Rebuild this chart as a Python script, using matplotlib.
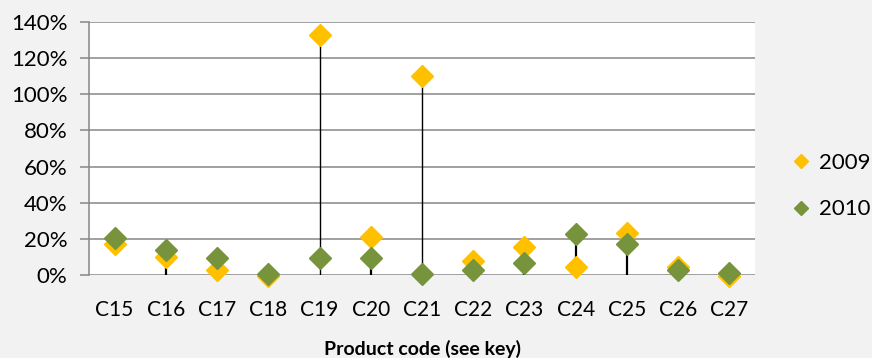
import matplotlib
matplotlib.use("Agg")
import matplotlib.pyplot as plt
import numpy as np
from matplotlib.lines import Line2D
from matplotlib.ticker import FuncFormatter

# data
products = ["C15", "C16", "C17", "C18", "C19", "C20", "C21",
            "C22", "C23", "C24", "C25", "C26", "C27"]
val_2009 = [0.17, 0.10, 0.025, -0.005, 1.33, 0.21, 1.10,
            0.077, 0.155, 0.045, 0.235, 0.045, -0.005]
val_2010 = [0.205, 0.138, 0.094, 0.006, 0.095, 0.094, 0.005,
            0.028, 0.066, 0.226, 0.172, 0.028, 0.01]
# black vertical lines as drawn in the chart (bottom, top); none where 0
line_low = [0, 0, 0, 0, 0, 0, 0, 0, 0, 0.045, 0, 0, 0]
line_high = [0, 0.10, 0, 0, 1.33, 0.094, 1.10, 0, 0.066, 0.226, 0.172, 0, 0]
y_ticks = [0, 0.2, 0.4, 0.6, 0.8, 1.0, 1.2, 1.4]

YELLOW = "#FFC000"
GREEN = "#77933C"
GRID = "#868686"
BG = "#F2F2F2"

plt.rcParams["font.family"] = ["Lato", "DejaVu Sans"]

fig = plt.figure(figsize=(8.72, 3.58), dpi=100, facecolor=BG)
ax = fig.add_axes([89 / 872, 1 - 275 / 358, 666 / 872, 253 / 358])
ax.set_facecolor("white")

x = np.arange(len(products))

lo = np.array(line_low)
hi = np.array(line_high)
has_line = hi > lo
tall = hi > 0.5
ax.vlines(x[has_line & tall], lo[has_line & tall], hi[has_line & tall],
          color="black", lw=1.0, zorder=2)
ax.vlines(x[has_line & ~tall], lo[has_line & ~tall], hi[has_line & ~tall],
          color="black", lw=1.6, zorder=2)

ax.plot(x, val_2009, ls="none", marker="D", ms=11, color=YELLOW,
        mec=YELLOW, zorder=3, clip_on=False)
ax.plot(x, val_2010, ls="none", marker="D", ms=11, color=GREEN,
        mec=GREEN, zorder=4, clip_on=False)

ax.set_xlim(-0.5, len(products) - 0.5)
ax.set_ylim(0, 1.4)
ax.set_yticks(y_ticks)
ax.yaxis.set_major_formatter(FuncFormatter(lambda v, p: f"{v * 100:.0f}%"))
ax.set_xticks(x)
ax.set_xticklabels(products)

ax.grid(axis="y", color=GRID, lw=1.1, zorder=1)
ax.set_axisbelow(True)
for s in ["top", "right", "bottom"]:
    ax.spines[s].set_visible(False)
ax.spines["left"].set_color(GRID)
ax.spines["left"].set_linewidth(1.1)

ax.tick_params(axis="y", length=6.5, width=1.1, color=GRID, pad=9,
               labelsize=16)
ax.tick_params(axis="x", length=0, pad=18, labelsize=15)

ax.set_xlabel("Product code (see key)", fontsize=14, fontweight="bold",
              labelpad=14)

handles = [
    Line2D([], [], ls="none", marker="D", ms=7, color=YELLOW),
    Line2D([], [], ls="none", marker="D", ms=7, color=GREEN),
]
leg = fig.legend(handles, ["2009", "2010"], loc="center left",
                 bbox_to_anchor=(792 / 872, 1 - 186 / 358), frameon=False,
                 fontsize=16, labelspacing=1.2, handlelength=0.8,
                 handletextpad=0.4, borderaxespad=0, borderpad=0)

fig.savefig("out.png", dpi=100, facecolor=BG)
